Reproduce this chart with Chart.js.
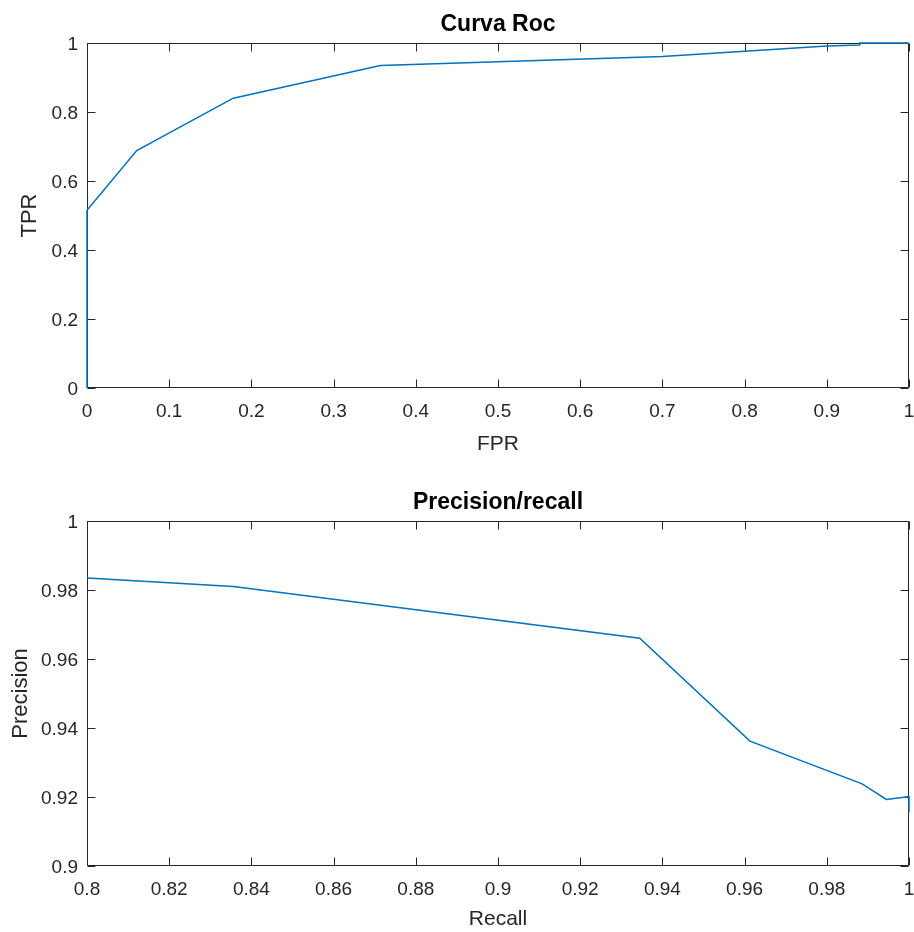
<!DOCTYPE html>
<html>
<head>
<meta charset="utf-8">
<script src="https://cdn.jsdelivr.net/npm/chart.js@4/dist/chart.umd.min.js"></script>
<style>
  html, body { margin:0; padding:0; background:#fff; }
  #wrap { position:relative; width:914px; height:932px; }
  canvas { position:absolute; left:0; }
  #rocChart { top:0; }
  #prChart { top:466px; }
</style>
</head>
<body>
<div id="wrap">
  <canvas id="rocChart" width="914" height="466"></canvas>
  <canvas id="prChart" width="914" height="466"></canvas>
</div>
<script>
// ROC curve
const rocFpr = [0, 0, 0.0605, 0.178, 0.357, 0.70, 0.90, 0.94, 0.94, 1];
const rocTpr = [0, 0.515, 0.688, 0.840, 0.935, 0.961, 0.991, 0.994, 1, 1];

// precision / recall curve
const prRecall    = [0.8, 0.8356, 0.9345, 0.9613, 0.9886, 0.9945, 0.9997, 1.0, 1.0];
const prPrecision = [0.9835, 0.981, 0.966, 0.9362, 0.9238, 0.9193, 0.9201, 0.9201, 0.9155];

// tick values + labels
const rocXTicks = [0, 0.1, 0.2, 0.3, 0.4, 0.5, 0.6, 0.7, 0.8, 0.9, 1];
const rocXLabels = ['0','0.1','0.2','0.3','0.4','0.5','0.6','0.7','0.8','0.9','1'];
const rocYTicks = [0, 0.2, 0.4, 0.6, 0.8, 1];
const rocYLabels = ['0','0.2','0.4','0.6','0.8','1'];
const prXTicks = [0.8, 0.82, 0.84, 0.86, 0.88, 0.9, 0.92, 0.94, 0.96, 0.98, 1];
const prXLabels = ['0.8','0.82','0.84','0.86','0.88','0.9','0.92','0.94','0.96','0.98','1'];
const prYTicks = [0.9, 0.92, 0.94, 0.96, 0.98, 1];
const prYLabels = ['0.9','0.92','0.94','0.96','0.98','1'];

const axisColor = '#262626';
const lineColor = '#0072BD';
const FONT = '"Liberation Sans", Arial, Helvetica, sans-serif';

Chart.defaults.font.family = FONT;
Chart.defaults.color = axisColor;

// matlab style box with inward ticks on all four sides
const boxTicks = {
  id: 'boxTicks',
  beforeDatasetsDraw(chart){
    const {ctx, chartArea:a, scales:{x, y}} = chart;
    const L = Math.round(a.left)+0.5, R = Math.round(a.right)-0.5;
    const T = Math.round(a.top)+0.5, B = Math.round(a.bottom)-0.5;
    const len = 8;
    ctx.save();
    ctx.strokeStyle = axisColor;
    ctx.lineWidth = 1;
    ctx.beginPath();
    ctx.rect(L, T, R-L, B-T);
    x.ticks.forEach(t=>{
      const px = Math.round(x.getPixelForValue(t.value))+0.5;
      ctx.moveTo(px, B); ctx.lineTo(px, B-len);
      ctx.moveTo(px, T); ctx.lineTo(px, T+len);
    });
    y.ticks.forEach(t=>{
      const py = Math.round(y.getPixelForValue(t.value))+0.5;
      ctx.moveTo(L, py); ctx.lineTo(L+len, py);
      ctx.moveTo(R, py); ctx.lineTo(R-len, py);
    });
    ctx.stroke();
    ctx.restore();
  }
};

function makeChart(id, cfg){
  const pts = cfg.xs.map((v,i)=>({x:v, y:cfg.ys[i]}));
  return new Chart(document.getElementById(id), {
    type:'line',
    data:{ datasets:[{
      data: pts,
      borderColor: lineColor,
      borderWidth: 1.5,
      pointRadius: 0,
      tension: 0,
      fill: false,
      clip: false
    }]},
    options:{
      responsive:false,
      animation:false,
      devicePixelRatio:1,
      layout:{ padding:{left:0, right:5, top:0, bottom:0} },
      plugins:{
        legend:{display:false},
        tooltip:{enabled:false},
        title:{
          display:true,
          fullSize:false,
          text: cfg.title,
          color: '#000',
          font:{size:23, weight:'bold', family:FONT, lineHeight:1.2},
          padding: cfg.titlePad
        }
      },
      scales:{
        x:{
          type:'linear',
          min: cfg.xTicks[0], max: cfg.xTicks[cfg.xTicks.length-1],
          afterBuildTicks: s => { s.ticks = cfg.xTicks.map(v=>({value:v})); },
          afterFit: s => { s.height = cfg.xAxisH; s.paddingLeft = 0; s.paddingRight = 0; },
          grid:{display:false, drawTicks:false},
          border:{display:false},
          ticks:{
            autoSkip:false, maxRotation:0, padding:12,
            font:{size:19},
            callback: (v, i) => cfg.xLabels[i]
          },
          title:{
            display:true, text: cfg.xTitle,
            font:{size:21, lineHeight:1.2},
            padding:{top:0, bottom: cfg.xTitlePad}
          }
        },
        y:{
          type:'linear',
          min: cfg.yTicks[0], max: cfg.yTicks[cfg.yTicks.length-1],
          afterBuildTicks: s => { s.ticks = cfg.yTicks.map(v=>({value:v})); },
          afterFit: s => { s.width = 87; },
          grid:{display:false, drawTicks:false},
          border:{display:false},
          ticks:{
            autoSkip:false, padding:9, labelOffset:2,
            font:{size:19},
            callback: (v, i) => cfg.yLabels[i]
          },
          title:{
            display:true, text: cfg.yTitle,
            font:{size:22, lineHeight:1.2},
            padding:{top: cfg.yTitlePad, bottom:0}
          }
        }
      }
    },
    plugins:[boxTicks]
  });
}

makeChart('rocChart', {
  xs: rocFpr, ys: rocTpr,
  title: 'Curva Roc', titlePad: {top:11, bottom:4.4},
  xTicks: rocXTicks, xLabels: rocXLabels,
  yTicks: rocYTicks, yLabels: rocYLabels,
  xTitle: 'FPR', yTitle: 'TPR',
  xAxisH: 78, xTitlePad: 9, yTitlePad: 17
});

makeChart('prChart', {
  xs: prRecall, ys: prPrecision,
  title: 'Precision/recall', titlePad: {top:23, bottom:4.4},
  xTicks: prXTicks, xLabels: prXLabels,
  yTicks: prYTicks, yLabels: prYLabels,
  xTitle: 'Recall', yTitle: 'Precision',
  xAxisH: 66, xTitlePad: 0, yTitlePad: 8
});
</script>
</body>
</html>
